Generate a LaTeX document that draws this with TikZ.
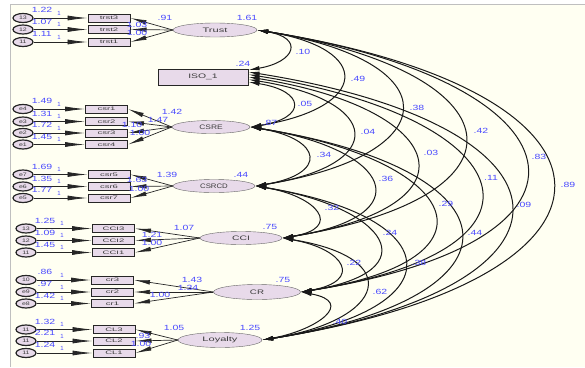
\documentclass[tikz,border=0pt]{standalone}
\usepackage{fontspec}
\setmainfont{Liberation Sans}
\usetikzlibrary{arrows.meta,shapes.geometric}
\definecolor{bg}{RGB}{255,255,242}
\definecolor{nodefill}{RGB}{232,218,234}
\definecolor{lbl}{RGB}{75,75,255}
\definecolor{txt}{RGB}{60,60,60}
\newcommand{\stretchtxt}[2]{\scalebox{#1}[1]{#2}}
\begin{document}
\begin{tikzpicture}[x=1pt,y=-1pt,
 lat/.style={ellipse, draw=black!60, fill=nodefill, inner sep=0pt, font=\fontsize{6.5}{7}\selectfont, text=txt},
 ind/.style={rectangle, draw=black!85, line width=1pt, fill=nodefill, minimum width=42pt, minimum height=8pt, inner sep=0pt, font=\fontsize{5}{6}\selectfont, text=txt},
 err/.style={ellipse, draw=black!85, line width=1.2pt, fill=nodefill, minimum width=20pt, minimum height=9pt, inner sep=0pt, font=\fontsize{5}{6}\selectfont, text=txt},
 val/.style={font=\fontsize{7.5}{8}\selectfont, text=lbl, inner sep=0pt},
 one/.style={font=\fontsize{6}{7}\selectfont, text=lbl, inner sep=0pt},
 ld/.style={draw=black!85, line width=0.7pt, -{Latex[length=16pt,width=4.5pt]}},
 eld/.style={draw=black!85, line width=0.8pt, -{Latex[length=20pt,width=5pt]}},
 cov/.style={draw=black!90, line width=1pt, {Latex[length=11pt,width=4.5pt]}-{Latex[length=11pt,width=4.5pt]}},
]
\useasboundingbox (0,0) rectangle (585,367);
\fill[white] (0,0) rectangle (585,367);
\fill[bg] (10,4) rectangle (585,367);
\draw[black!25] (10,367) -- (10,4) -- (585,4);

% latent and observed main nodes
\node[lat, minimum width=84pt, minimum height=14pt] (T) at (215,30) {\stretchtxt{1.7}{Trust}};
\node[rectangle, draw=black!85, line width=1pt, fill=nodefill, minimum width=90pt, minimum height=16pt, inner sep=0pt, font=\fontsize{6.5}{8}\selectfont, text=txt] (I) at (203,77) {\stretchtxt{1.6}{ISO\_1}};
\node[lat, minimum width=78pt, minimum height=13pt] (E) at (211,127) {\stretchtxt{1.3}{CSRE}};
\node[lat, minimum width=82pt, minimum height=13pt] (D) at (214,186) {\stretchtxt{1.2}{CSRCD}};
\node[lat, minimum width=82pt, minimum height=13pt] (C) at (241,238) {\stretchtxt{1.6}{CCI}};
\node[lat, minimum width=87pt, minimum height=15pt] (R) at (257,292) {\stretchtxt{1.5}{CR}};
\node[lat, minimum width=84pt, minimum height=15pt] (L) at (220,340) {\stretchtxt{1.7}{Loyalty}};

% indicators with error terms
\foreach \id/\bt/\et/\y/\v/\bx/\ex/\lt in {
 t3/trst3/13/18/1.22/109/23/T, t2/trst2/12/29.5/1.07/109/23/T, t1/trst1/11/42/1.11/109/23/T,
 c1/csr1/e4/109/1.49/106.5/23/E, c2/csr2/e3/121.5/1.31/106.5/23/E, c3/csr3/e2/133/1.72/106.5/23/E, c4/csr4/e1/144.5/1.45/106.5/23/E,
 c5/csr5/e7/174.5/1.69/109/23/D, c6/csr6/e6/186.5/1.35/109/23/D, c7/csr7/e5/198/1.77/109/23/D,
 i3/CCI3/13/228.5/1.25/113.5/26/C, i2/CCI2/12/240.5/1.09/113.5/26/C, i1/CCI1/11/252.5/1.45/113.5/26/C,
 r3/cr3/10/280/.86/112.5/26/R, r2/cr2/e9/292/.97/112.5/26/R, r1/cr1/e8/303.5/1.42/112.5/26/R,
 l3/CL3/11/329.5/1.32/114/26/L, l2/CL2/11/341/2.21/114/26/L, l1/CL1/11/353/1.24/114/26/L}
{
 \node[ind] (b\id) at (\bx,\y) {\stretchtxt{1.9}{\bt}};
 \node[err] (e\id) at (\ex,\y) {\stretchtxt{1.4}{\et}};
 \draw[eld] (e\id) -- (b\id);
 \draw[ld] (\lt.west) -- (b\id.east);
 \node[val] at (\ex+19,\y-8) {\stretchtxt{1.4}{\v}};
 \node[one] at (\ex+36,\y-5) {1};
}

% covariance arcs
\draw[cov] (T.east) .. controls +(47,8) and +(47,-8) .. ([yshift=7pt]I.east);
\draw[cov] ([yshift=-5pt]I.east) .. controls +(57,9) and +(57,-9) .. (E.east);
\draw[cov] (E.east) .. controls +(73,12) and +(73,-12) .. (D.east);
\draw[cov] (D.east) .. controls +(62,10) and +(62,-10) .. (C.east);
\draw[cov] (C.east) .. controls +(63,11) and +(63,-11) .. (R.east);
\draw[cov] (R.east) .. controls +(55,10) and +(55,-10) .. (L.east);
\draw[cov] (T.east) .. controls +(118,19) and +(118,-19) .. (E.east);
\draw[cov] ([yshift=-2.5pt]I.east) .. controls +(134,21) and +(134,-21) .. (D.east);
\draw[cov] (E.east) .. controls +(141,22) and +(141,-22) .. (C.east);
\draw[cov] (D.east) .. controls +(131,21) and +(131,-21) .. (R.east);
\draw[cov] (C.east) .. controls +(124,20) and +(124,-20) .. (L.east);
\draw[cov] (T.east) .. controls +(193,31) and +(193,-31) .. (D.east);
\draw[cov] (I.east) .. controls +(200,32) and +(200,-32) .. (C.east);
\draw[cov] (E.east) .. controls +(209,33) and +(209,-33) .. (R.east);
\draw[cov] (D.east) .. controls +(194,31) and +(194,-31) .. (L.east);
\draw[cov] (T.east) .. controls +(259,42) and +(259,-42) .. (C.east);
\draw[cov] ([yshift=2.5pt]I.east) .. controls +(272,43) and +(272,-43) .. (R.east);
\draw[cov] (E.east) .. controls +(272,43) and +(272,-43) .. (L.east);
\draw[cov] (T.east) .. controls +(328,52) and +(328,-52) .. (R.east);
\draw[cov] ([yshift=5pt]I.east) .. controls +(340,54) and +(340,-54) .. (L.east);
\draw[cov] (T.east) .. controls +(390,62) and +(390,-62) .. (L.east);

% covariance labels
\foreach \x/\y/\t in {303/52/.10, 305/104/.05, 324/155/.34, 332/208/.32, 354/263/.22, 340/322/.40,
 358/79/.49, 368/132/.04, 386/179/.36, 390/233/.24, 380/292/.62,
 417/108/.38, 431/153/.03, 446/204/.29, 419/263/.38,
 481/131/.42, 491/178/.11, 475/233/.44,
 539/157/.83, 524/205/.09, 568/185/.89}
 \node[val] at (\x,\y) {\stretchtxt{1.4}{\t}};

% variances of latent / ISO
\foreach \x/\y/\t in {247/18/1.61, 243/64/.24, 270/123/.87, 241/175/.44, 270/227/.75, 283/280/.75, 250/328/1.25}
 \node[val] at (\x,\y) {\stretchtxt{1.4}{\t}};

% loadings
\foreach \x/\y/\t in {165/18/.91, 137/25/1.03, 137/33/1.00,
 172/112/1.42, 158/119.5/1.47, 132/125/1.10, 140/133/1.00,
 167/175/1.39, 137/180/1.63, 139/189/1.00,
 184/228/1.07, 152/234.5/1.21, 152/242.5/1.00,
 192/280/1.43, 188/287.5/1.34, 160/295/1.00,
 174/328/1.05, 143/336/.93, 141/344/1.00}
 \node[val] at (\x,\y) {\stretchtxt{1.4}{\t}};
\end{tikzpicture}
\end{document}
